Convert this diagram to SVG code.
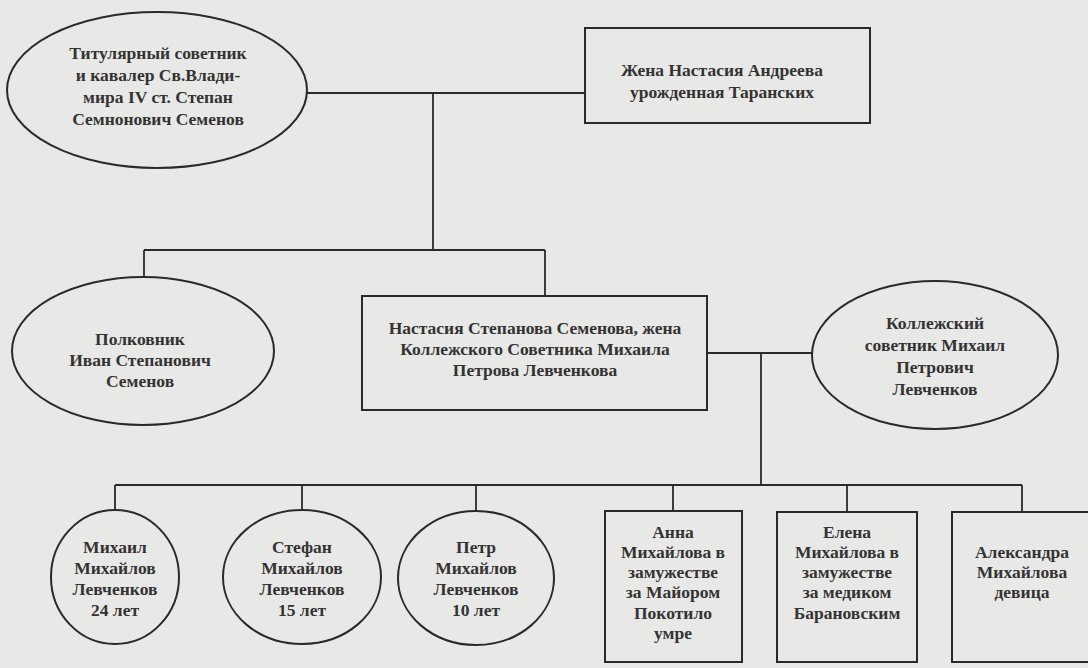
<svg xmlns="http://www.w3.org/2000/svg" width="1088" height="668" viewBox="0 0 1088 668">
<style>
.bg{fill:#e8e8e6}
.shape{fill:none;stroke:#2a2a2a;stroke-width:2}
.conn{fill:none;stroke:#2a2a2a;stroke-width:1.8}
text{font-family:"Liberation Serif","Times New Roman",serif;font-size:17.5px;font-weight:bold;fill:#333;text-anchor:middle}
</style>
<rect class="bg" x="0" y="0" width="1088" height="668"/>
<g id="connectors">
<path class="conn" d="M307 93H585"/>
<path class="conn" d="M433 93V250"/>
<path class="conn" d="M144 250H545"/>
<path class="conn" d="M144 250V277"/>
<path class="conn" d="M545 250V296"/>
<path class="conn" d="M707 353H812"/>
<path class="conn" d="M761 353V485"/>
<path class="conn" d="M115 485H1022"/>
<path class="conn" d="M115 485V510"/>
<path class="conn" d="M302 485V510"/>
<path class="conn" d="M476 485V511"/>
<path class="conn" d="M673 485V511"/>
<path class="conn" d="M847 485V512"/>
<path class="conn" d="M1022 485V512"/>
</g>
<g id="stepan">
<ellipse class="shape" cx="157" cy="90" rx="150" ry="78"/>
<text x="158" y="59">Титулярный советник</text>
<text x="158" y="81">и кавалер Св.Влади-</text>
<text x="158" y="103">мира IV ст. Степан</text>
<text x="158" y="125">Семнонович Семенов</text>
</g>
<g id="nastasia-andreeva">
<rect class="shape" x="585" y="28" width="285" height="95"/>
<text x="722" y="76">Жена Настасия Андреева</text>
<text x="722" y="98">урожденная Таранских</text>
</g>
<g id="ivan">
<ellipse class="shape" cx="143" cy="351" rx="131" ry="74"/>
<text x="140" y="345">Полковник</text>
<text x="140" y="366">Иван Степанович</text>
<text x="140" y="387">Семенов</text>
</g>
<g id="nastasia-stepanova">
<rect class="shape" x="362" y="296" width="345" height="114"/>
<text x="535" y="334">Настасия Степанова Семенова, жена</text>
<text x="535" y="355">Коллежского Советника Михаила</text>
<text x="535" y="376">Петрова Левченкова</text>
</g>
<g id="mikhail-petrovich">
<ellipse class="shape" cx="935" cy="355" rx="123" ry="74"/>
<text x="935" y="329">Коллежский</text>
<text x="935" y="351">советник Михаил</text>
<text x="935" y="373">Петрович</text>
<text x="935" y="395">Левченков</text>
</g>
<g id="mikhail">
<ellipse class="shape" cx="115" cy="577" rx="64" ry="67"/>
<text x="115" y="553">Михаил</text>
<text x="115" y="574">Михайлов</text>
<text x="115" y="595">Левченков</text>
<text x="115" y="616">24 лет</text>
</g>
<g id="stefan">
<ellipse class="shape" cx="302" cy="577" rx="79" ry="67"/>
<text x="302" y="553">Стефан</text>
<text x="302" y="574">Михайлов</text>
<text x="302" y="595">Левченков</text>
<text x="302" y="616">15 лет</text>
</g>
<g id="petr">
<ellipse class="shape" cx="476" cy="578" rx="78" ry="67"/>
<text x="476" y="553">Петр</text>
<text x="476" y="574">Михайлов</text>
<text x="476" y="595">Левченков</text>
<text x="476" y="616">10 лет</text>
</g>
<g id="anna">
<rect class="shape" x="605" y="511" width="137" height="151"/>
<text x="673" y="538">Анна</text>
<text x="673" y="558">Михайлова в</text>
<text x="673" y="578">замужестве</text>
<text x="673" y="598">за Майором</text>
<text x="673" y="619">Покотило</text>
<text x="673" y="639">умре</text>
</g>
<g id="elena">
<rect class="shape" x="777" y="512" width="140" height="150"/>
<text x="847" y="538">Елена</text>
<text x="847" y="558">Михайлова в</text>
<text x="847" y="578">замужестве</text>
<text x="847" y="598">за медиком</text>
<text x="847" y="619">Барановским</text>
</g>
<g id="aleksandra">
<rect class="shape" x="952" y="512" width="140" height="150"/>
<text x="1022" y="558">Александра</text>
<text x="1022" y="578">Михайлова</text>
<text x="1022" y="598">девица</text>
</g>
</svg>
